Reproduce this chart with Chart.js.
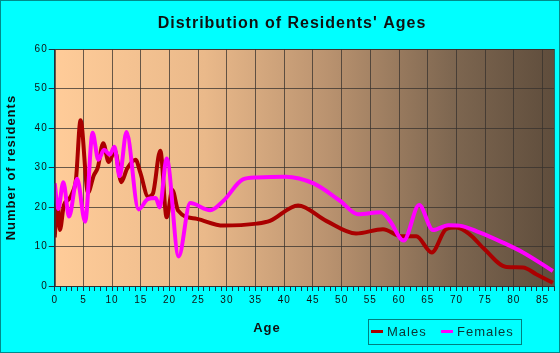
<!DOCTYPE html>
<html>
<head>
<meta charset="utf-8">
<script src="https://cdn.jsdelivr.net/npm/chart.js@4.4.0/dist/chart.umd.min.js"></script>
<style>
  html, body { margin: 0; padding: 0; background: #00ffff; }
</style>
</head>
<body>
<canvas id="ages-chart" width="560" height="353"></canvas>
<script>
// curve points (age, number of residents)
var maleAges = [0, 0.5, 0.9, 1.6, 2.5, 3.1, 3.7, 4.5, 5.8, 6.8, 7.5, 8.45, 9.4, 10.5, 11.6, 12.6, 14.1, 14.9, 16.3, 17.1, 18.4, 19.5, 20.5, 21.5, 24.8, 29.4, 35.2, 37.5, 42.4, 47.3, 52.5, 57.2, 60.4, 63.0, 65.7, 68.2, 70.0, 72.3, 74.9, 78.7, 81.6, 83.9, 86.8];
var maleCounts = [12.3, 21.8, 14.2, 20.5, 22, 23.7, 27, 42, 23.7, 28, 30, 36.2, 31.4, 34.3, 26.3, 29.7, 32, 28.8, 22.6, 23.4, 34.3, 17.4, 24.3, 19.1, 17, 15.3, 15.8, 16.5, 20.4, 16.5, 13.3, 14.4, 12.6, 12.6, 8.5, 14.4, 14.8, 13.1, 9.3, 4.8, 4.7, 3.0, 0.8];

var femaleAges = [0, 0.6, 1.5, 2.5, 3.9, 5.3, 6.6, 7.6, 8.6, 9.6, 10.4, 11.3, 12.5, 14.6, 16.2, 17.6, 18.3, 19.5, 21.6, 23.6, 27.1, 29.4, 32.8, 35.2, 40.2, 45.1, 49.7, 52.8, 56.9, 58.4, 60.8, 63.5, 65.9, 68.6, 70.5, 74.0, 78.1, 81.6, 86.8];
var femaleCounts = [26, 19.5, 26.3, 17.6, 27.2, 16.3, 38.8, 32, 34.5, 33.3, 35.3, 27.8, 39, 19.4, 22, 22.3, 19.9, 32.3, 7.5, 21, 19.2, 21.6, 27, 27.5, 27.7, 26, 21.6, 18.2, 18.7, 16.5, 11.5, 20.5, 14.2, 15.4, 15.3, 13.6, 11, 8.5, 3.8];

var seriesNames = ['Males', 'Females'];
var xMax = 87;
var yMax = 60;

function toPoints(ages, counts) {
  var pts = [];
  for (var i in ages) {
    pts.push({x: ages[i], y: counts[i]});
  }
  return pts;
}

var fontFamily = '"Liberation Sans", Arial, sans-serif';
var gridColor = 'rgba(55, 50, 45, 0.75)';
var tickMarkColor = '#1a3340';

// cyan page, brown gradient behind the plot, frame + legend + x title on top
var backdrop = {
  id: 'backdrop',
  afterLayout(chart) {
    // title sits a bit right of the canvas centre in the original
    if (chart.titleBlock) {
      chart.titleBlock.left = 30;
      chart.titleBlock.right = 554;
    }
  },
  beforeDraw(chart) {
    var ctx = chart.ctx;
    var a = chart.chartArea;
    ctx.save();
    ctx.fillStyle = '#00ffff';
    ctx.fillRect(0, 0, chart.width, chart.height);
    var g = ctx.createLinearGradient(a.left, 0, a.right, 0);
    g.addColorStop(0, '#ffcc99');
    g.addColorStop(0.3, '#eab98a');
    g.addColorStop(0.55, '#b9926f');
    g.addColorStop(0.8, '#7d6650');
    g.addColorStop(1, '#5f4d3c');
    ctx.fillStyle = g;
    ctx.fillRect(a.left, a.top, a.right - a.left, a.bottom - a.top);
    ctx.restore();
    ctx.letterSpacing = '1px';
  },
  afterDraw(chart) {
    var ctx = chart.ctx;
    var a = chart.chartArea;
    ctx.save();
    ctx.strokeStyle = gridColor;
    ctx.lineWidth = 1;
    ctx.strokeRect(Math.round(a.left) + 0.5, Math.round(a.top) + 0.5, Math.round(a.right - a.left), Math.round(a.bottom - a.top));

    ctx.strokeStyle = '#008b8b';
    ctx.strokeRect(0.5, 0.5, chart.width - 1, chart.height - 1);

    ctx.letterSpacing = '1px';
    ctx.fillStyle = '#111';
    ctx.font = 'bold 13px ' + fontFamily;
    ctx.textAlign = 'center';
    ctx.textBaseline = 'middle';
    ctx.fillText('Age', 267, 328);

    // legend
    ctx.strokeStyle = '#008080';
    ctx.strokeRect(368.5, 319.5, 153, 25);
    ctx.font = '13px ' + fontFamily;
    ctx.textAlign = 'left';
    var xs = [371, 441];
    chart.data.datasets.forEach(function (ds, i) {
      ctx.strokeStyle = ds.borderColor;
      ctx.lineWidth = 3;
      ctx.beginPath();
      ctx.moveTo(xs[i], 331.5);
      ctx.lineTo(xs[i] + 12, 331.5);
      ctx.stroke();
      ctx.fillStyle = '#0b3434';
      ctx.fillText(ds.label, xs[i] + 16, 332);
    });
    ctx.restore();
  }
};

new Chart('ages-chart', {
  type: 'line',
  data: {
    datasets: [{
      label: seriesNames[0],
      data: toPoints(maleAges, maleCounts),
      borderColor: '#aa0000',
      borderWidth: 4,
      pointRadius: 0,
      fill: false,
      cubicInterpolationMode: 'monotone',
      order: 1
    }, {
      label: seriesNames[1],
      data: toPoints(femaleAges, femaleCounts),
      borderColor: '#ff00ff',
      borderWidth: 4,
      pointRadius: 0,
      fill: false,
      cubicInterpolationMode: 'monotone',
      order: 0
    }]
  },
  options: {
    responsive: false,
    animation: false,
    layout: { padding: { left: 4, right: 6, top: 0, bottom: 44 } },
    plugins: {
      legend: { display: false },
      tooltip: { enabled: false },
      title: {
        display: true,
        text: "Distribution of Residents' Ages",
        color: '#111',
        font: { family: fontFamily, size: 16, weight: 'bold' },
        padding: { top: 14, bottom: 16 }
      }
    },
    scales: {
      x: {
        type: 'linear',
        min: 0,
        max: xMax,
        ticks: {
          stepSize: 1,
          autoSkip: false,
          maxRotation: 0,
          color: '#111',
          padding: 3,
          font: { family: fontFamily, size: 10 },
          callback: function (v) { return v % 5 === 0 ? v : ''; }
        },
        grid: {
          color: function (c) { return (c.tick && c.tick.value % 5 === 0) ? gridColor : 'rgba(0,0,0,0)'; },
          tickColor: tickMarkColor,
          tickLength: 5
        },
        border: { color: tickMarkColor }
      },
      y: {
        min: 0,
        max: yMax,
        ticks: {
          stepSize: 10,
          color: '#111',
          padding: 1,
          font: { family: fontFamily, size: 10 }
        },
        grid: {
          color: gridColor,
          tickColor: tickMarkColor,
          tickLength: 6
        },
        border: { color: tickMarkColor },
        title: {
          display: true,
          text: 'Number of residents',
          color: '#111',
          font: { family: fontFamily, size: 13, weight: 'bold' },
          padding: { top: 0, bottom: 16 }
        }
      }
    }
  },
  plugins: [backdrop]
});
</script>
</body>
</html>
